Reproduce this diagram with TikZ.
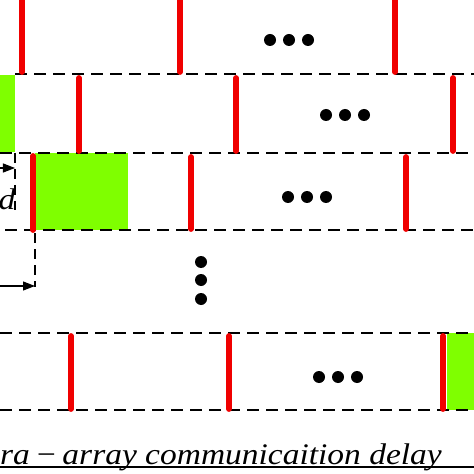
\documentclass[tikz,border=0pt]{standalone}
\usepackage{fontspec}
\setmainfont{Liberation Serif}
\newfontfamily\widefont[FakeStretch=1.12]{Liberation Serif}
\usetikzlibrary{arrows.meta}
\definecolor{BarRed}{RGB}{240,0,0}
\definecolor{Slot}{RGB}{127,255,0}

\begin{document}
\begin{tikzpicture}[
    x=1bp,
    y=-1bp,
    lane/.style={black, line width=2.5bp, dash pattern=on 12bp off 7bp},
    bar/.style={BarRed, line width=5.8bp, line cap=round},
    slot/.style={draw=none, fill=Slot, inner sep=0pt, anchor=north west},
    dot/.style={circle, fill=black, inner sep=0pt, minimum size=12bp},
    marker/.style={black, line width=2bp, dash pattern=on 10bp off 6bp},
    pointer/.style={-{Triangle[length=12bp,width=9bp]}, line width=1.1bp},
    bigtext/.style={inner sep=0pt, font=\fontsize{30}{36}\selectfont\widefont\itshape}
  ]
    \useasboundingbox (0,0) rectangle (474,474);
    \clip (0,0) rectangle (474,474);

    % Green slots
    \node[slot, minimum width=15bp, minimum height=77bp] (slotb) at (0,75) {};
    \node[slot, minimum width=93bp, minimum height=77bp] (slotc) at (35,153) {};
    \node[slot, minimum width=30bp, minimum height=77bp] (slotd) at (447,333) {};

    % Dashed lanes
    \draw[lane] (15,74) -- (474,74);
    \draw[lane] (0,153) -- (474,153);
    \draw[lane] (5,230) -- (474,230);
    \draw[lane] (0,333) -- (474,333);
    \draw[lane] (0,410) -- (474,410);

    % Red bars, row by row
    \draw[bar] (22,0) -- (22,72);
    \draw[bar] (180,0) -- (180,72);
    \draw[bar] (395,0) -- (395,72);

    \draw[bar] (79,78) -- (79,151);
    \draw[bar] (236,78) -- (236,151);
    \draw[bar] (453,78) -- (453,151);

    \draw[bar] (33,156) -- (33,230);
    \draw[bar] (191,157) -- (191,229);
    \draw[bar] (406,157) -- (406,229);

    \draw[bar] (71,336) -- (71,409);
    \draw[bar] (229,336) -- (229,409);
    \draw[bar] (443,336) -- (443,409);

    % Ellipsis dots
    \node[dot] (ra1) at (270,40) {};
    \node[dot] (ra2) at (289,40) {};
    \node[dot] (ra3) at (308,40) {};
    \node[dot] (rb1) at (326,115) {};
    \node[dot] (rb2) at (345,115) {};
    \node[dot] (rb3) at (364,115) {};
    \node[dot] (rc1) at (288,197) {};
    \node[dot] (rc2) at (307,197) {};
    \node[dot] (rc3) at (326,197) {};
    \node[dot] (rd1) at (319,377) {};
    \node[dot] (rd2) at (338,377) {};
    \node[dot] (rd3) at (357,377) {};
    \node[dot] (vd1) at (201,262) {};
    \node[dot] (vd2) at (201,280) {};
    \node[dot] (vd3) at (201,299) {};

    % Offset markers
    \draw[marker] (15,153) -- (15,210);
    \draw[marker] (35,233) -- (35,287);
    \coordinate (ina) at (0,168);
    \coordinate (outa) at (15,168);
    \coordinate (inb) at (0,286);
    \coordinate (outb) at (35,286);
    \draw[pointer] (ina) -- (outa);
    \draw[pointer] (inb) -- (outb);
    \node[bigtext] (dlabel) at (7,199) {d};

    % Caption
    \node[bigtext, anchor=base west] (caption) at (0,464) {ra\,−\,array communicaition delay};
    \draw[line width=1.4bp] (0,467) -- (474,467);
  \end{tikzpicture}
\end{document}
